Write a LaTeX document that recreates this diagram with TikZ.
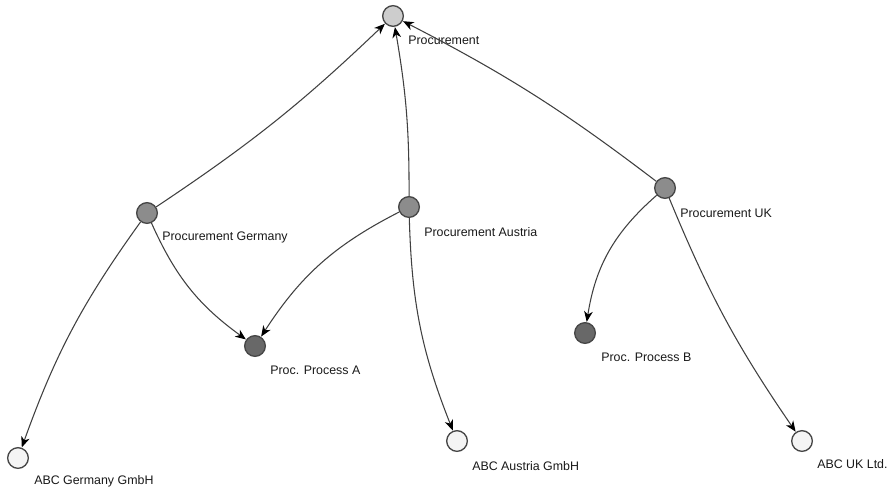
\documentclass[tikz,border=0pt]{standalone}
\usepackage{fontspec}
\setmainfont{Liberation Sans}
\usetikzlibrary{arrows.meta}
\definecolor{rootfill}{HTML}{CDCDCD}
\definecolor{midfill}{HTML}{8C8C8C}
\definecolor{procfill}{HTML}{686868}
\definecolor{leaffill}{HTML}{F4F4F4}
\definecolor{rim}{HTML}{474747}
\definecolor{wire}{HTML}{404040}
\tikzset{
  vtx/.style={circle, draw=rim, line width=1pt, minimum size=15.5pt, inner sep=0pt},
  rootv/.style={vtx, fill=rootfill},
  midv/.style={vtx, fill=midfill},
  procv/.style={vtx, fill=procfill},
  leafv/.style={vtx, fill=leaffill},
  lbl/.style={anchor=west, inner sep=0pt, text=black!90,
    font=\fontsize{9.3}{11}\selectfont},
  link/.style={draw=wire, line width=0.8pt,
    -{Stealth[length=8pt, width=6.5pt, inset=2.4pt, color=black]}, shorten >=0.2pt}
}
\begin{document}
\begin{tikzpicture}[x=0.75pt, y=-0.75pt]
  \useasboundingbox (0,0) rectangle (891,492);
  % vertices
  \node[rootv] (proc) at (393,16) {};
  \node[midv]  (pger) at (147,213) {};
  \node[midv]  (paut) at (409,207) {};
  \node[midv]  (puk)  at (665,188) {};
  \node[procv] (ppa)  at (255,346) {};
  \node[procv] (ppb)  at (585,333) {};
  \node[leafv] (ager) at (18,458) {};
  \node[leafv] (aaut) at (457,441) {};
  \node[leafv] (auk)  at (802,441) {};
  % captions
  \node[lbl] (proc-l) at (408,40)  {Procurement};
  \node[lbl] (pger-l) at (162,237) {Procurement Germany};
  \node[lbl] (paut-l) at (424,232) {Procurement Austria};
  \node[lbl] (puk-l)  at (680,213) {Procurement UK};
  \node[lbl] (ppa-l)  at (270,370) {Proc. Process A};
  \node[lbl] (ppb-l)  at (601,357) {Proc. Process B};
  \node[lbl] (ager-l) at (34,481)  {ABC Germany GmbH};
  \node[lbl] (aaut-l) at (472,466) {ABC Austria GmbH};
  \node[lbl] (auk-l)  at (817,464) {ABC UK Ltd.};
  % connectors
  \draw[link] (pger) to[bend right=5] (proc);
  \draw[link] (paut) to[bend right=5] (proc);
  \draw[link] (puk)  to[bend right=5] (proc);
  \draw[link] (pger) to[bend right=15] (ppa);
  \draw[link] (paut) to[bend right=15] (ppa);
  \draw[link] (pger) to[bend right=8] (ager);
  \draw[link] (paut) to[bend right=10] (aaut);
  \draw[link] (puk)  to[bend right=20] (ppb);
  \draw[link] (puk)  to[bend right=6] (auk);
\end{tikzpicture}
\end{document}
